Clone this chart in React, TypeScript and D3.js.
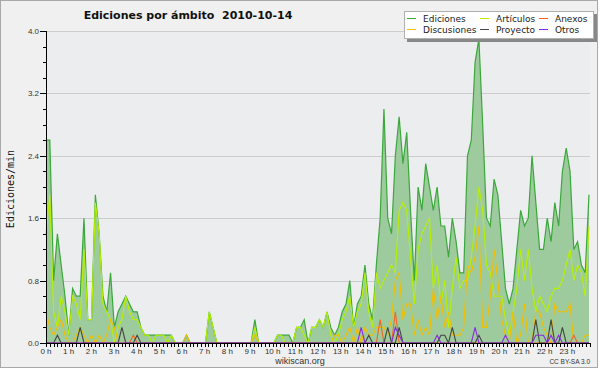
import React from 'react';
import * as d3 from 'd3';

// values are edits per minute, one point every 10 minutes (144 points)
const ediciones = [
  2.6, 2.6, 0.8, 1.4, 1.0, 0.6, 0.1, 0.7, 0.6, 0.6, 1.6, 0.3,
  0.3, 1.9, 1.4, 0.6, 0.4, 0.9, 0.2, 0.4, 0.5, 0.6, 0.5, 0.4,
  0.4, 0.2, 0.1, 0.1, 0.1, 0.1, 0.1, 0.1, 0.1, 0.1, 0, 0,
  0, 0.1, 0, 0, 0, 0, 0, 0.4, 0.2, 0, 0, 0,
  0, 0, 0, 0, 0, 0, 0, 0.3, 0, 0, 0, 0,
  0, 0.1, 0.1, 0.1, 0.1, 0, 0.2, 0.2, 0.3, 0, 0.2, 0.2,
  0.3, 0.2, 0.4, 0.2, 0.1, 0.2, 0.4, 0.5, 0.8, 0.2, 0.5, 0.6,
  1.0, 0.5, 0.3, 1.0, 1.6, 3.0, 1.6, 1.4, 2.4, 2.9, 2.3, 2.7,
  1.7, 0.8, 2.0, 1.7, 2.3, 2.0, 1.7, 2.0, 1.5, 1.5, 1.1, 1.6,
  1.3, 0.9, 0.9, 2.4, 2.6, 3.6, 3.9, 2.8, 1.6, 1.5, 2.1, 1.9,
  1.3, 0.7, 0.5, 0.7, 1.2, 1.7, 1.5, 1.6, 2.4, 1.8, 1.2, 1.2,
  1.6, 1.3, 1.8, 1.5, 2.2, 2.5, 2.2, 1.2, 1.3, 1.0, 0.9, 1.9,
];

const articulos = [
  1.4, 1.9, 0.4, 0.2, 0.6, 0.4, 0.1, 0.6, 0.5, 0.3, 1.2, 0.3,
  0.3, 1.8, 1.4, 0.5, 0.4, 0.3, 0, 0.2, 0.3, 0.6, 0.4, 0.3,
  0.3, 0.2, 0.1, 0.1, 0, 0.1, 0.1, 0.1, 0, 0.1, 0, 0,
  0, 0, 0, 0, 0, 0, 0, 0.4, 0.2, 0, 0, 0,
  0, 0, 0, 0, 0, 0, 0, 0.2, 0, 0, 0, 0,
  0, 0.1, 0.1, 0, 0, 0, 0.2, 0.2, 0.1, 0, 0.2, 0.2,
  0.3, 0.2, 0.4, 0.1, 0, 0.1, 0.3, 0.4, 0.6, 0.2, 0.4, 0.5,
  0.9, 0.4, 0.2, 0.9, 0.7, 0.8, 0.9, 1.0, 0.9, 1.7, 1.8, 1.7,
  1.1, 0.5, 1.2, 1.4, 1.5, 1.6, 0.7, 1.0, 0.5, 0.8, 0.2, 0.7,
  1.1, 0.7, 0.8, 0.8, 1.1, 1.5, 2.0, 1.7, 1.0, 0.9, 0.6, 0.6,
  0.6, 0.3, 0.1, 0.4, 0.7, 1.2, 0.8, 1.2, 0.7, 0.4, 0.6, 0.5,
  0.4, 0.6, 0.7, 0.7, 0.8, 1.0, 1.2, 0.8, 1.0, 0.9, 0.6, 1.5,
];

const discusiones = [
  0.4, 0.2, 0.1, 0.2, 0.3, 0.1, 0, 0, 0.1, 0.2, 0.1, 0,
  0.1, 0, 0.1, 0, 0.1, 0.3, 0.2, 0, 0, 0, 0, 0,
  0, 0, 0, 0, 0, 0, 0, 0, 0, 0, 0, 0,
  0, 0.1, 0, 0, 0, 0, 0, 0, 0, 0, 0, 0,
  0, 0, 0, 0, 0, 0, 0, 0.1, 0, 0, 0, 0,
  0, 0, 0, 0, 0, 0, 0, 0, 0, 0, 0, 0,
  0, 0, 0, 0, 0.1, 0.1, 0, 0.1, 0.2, 0, 0.2, 0,
  0.2, 0.1, 0.1, 0.2, 0.2, 0.2, 0.1, 0.3, 0.8, 0.9, 0.3, 0.5,
  0.5, 0.1, 0.3, 0.1, 0.2, 0.1, 0.7, 0.3, 0.6, 0.2, 0.4, 0.1,
  0.1, 0.1, 0.2, 1.0, 0.9, 1.1, 1.5, 0.2, 0.2, 0.6, 1.2, 0.8,
  0.3, 0.1, 0, 0.4, 0, 0.1, 0.5, 0, 0, 0.4, 0.4, 0.2,
  0.1, 0, 0.5, 0.4, 0.4, 0.4, 0.5, 0, 0, 0, 0.1, 0.1,
];

const anexos = [
  0, 0, 0, 0, 0, 0, 0, 0, 0, 0, 0, 0,
  0, 0, 0, 0, 0, 0, 0, 0, 0, 0, 0, 0.1,
  0, 0, 0, 0, 0, 0, 0, 0, 0, 0, 0, 0,
  0, 0, 0, 0, 0, 0, 0, 0, 0, 0, 0, 0,
  0, 0, 0, 0, 0, 0, 0, 0, 0, 0, 0, 0,
  0, 0, 0, 0, 0, 0, 0, 0, 0, 0, 0, 0,
  0, 0, 0, 0, 0, 0, 0, 0, 0, 0, 0, 0,
  0, 0, 0, 0, 0.3, 0, 0, 0, 0.4, 0, 0, 0,
  0, 0, 0, 0, 0, 0, 0, 0, 0, 0, 0, 0,
  0, 0, 0, 0, 0, 0, 0, 0, 0, 0, 0, 0,
  0, 0, 0, 0, 0, 0, 0, 0, 0, 0, 0, 0,
  0, 0, 0, 0, 0, 0, 0, 0.1, 0, 0, 0, 0,
];

const proyecto = [
  0, 0, 0, 0.1, 0, 0, 0, 0, 0, 0.2, 0, 0,
  0, 0, 0, 0, 0, 0, 0, 0, 0.2, 0, 0, 0,
  0.1, 0, 0, 0, 0, 0, 0, 0, 0, 0, 0, 0,
  0, 0, 0, 0, 0, 0, 0, 0, 0, 0, 0, 0,
  0, 0, 0, 0, 0, 0, 0, 0, 0, 0, 0, 0,
  0, 0, 0, 0, 0, 0, 0, 0, 0, 0, 0, 0,
  0, 0, 0, 0, 0, 0, 0, 0, 0, 0, 0, 0,
  0, 0.1, 0, 0, 0, 0, 0.2, 0, 0, 0.2, 0, 0,
  0, 0, 0, 0, 0, 0, 0, 0, 0.1, 0.1, 0, 0.2,
  0, 0, 0, 0, 0, 0, 0.1, 0, 0, 0, 0, 0,
  0, 0, 0, 0, 0, 0, 0, 0, 0, 0.3, 0, 0,
  0, 0.3, 0, 0, 0.2, 0, 0, 0, 0, 0, 0, 0,
];

const otros = [
  0, 0, 0, 0, 0, 0, 0, 0, 0, 0, 0, 0,
  0, 0, 0, 0, 0, 0, 0, 0, 0, 0, 0, 0,
  0, 0, 0, 0, 0, 0, 0, 0, 0, 0, 0, 0,
  0, 0, 0, 0, 0, 0, 0, 0, 0, 0, 0, 0,
  0, 0, 0, 0, 0, 0, 0, 0, 0, 0, 0, 0,
  0, 0, 0, 0, 0, 0, 0, 0, 0, 0, 0, 0,
  0, 0, 0, 0, 0, 0, 0, 0, 0, 0, 0, 0.2,
  0, 0, 0, 0, 0, 0, 0, 0, 0.2, 0.1, 0, 0,
  0, 0, 0, 0, 0, 0, 0, 0.1, 0, 0, 0, 0,
  0, 0, 0, 0, 0, 0.2, 0, 0, 0, 0, 0, 0,
  0, 0.1, 0, 0, 0, 0, 0, 0, 0, 0.1, 0.1, 0.1,
  0, 0.1, 0, 0.1, 0, 0, 0, 0, 0, 0, 0, 0,
];

const hourLabels = [
  '0 h', '1 h', '2 h', '3 h', '4 h', '5 h', '6 h', '7 h', '8 h', '9 h', '10 h', '11 h',
  '12 h', '13 h', '14 h', '15 h', '16 h', '17 h', '18 h', '19 h', '20 h', '21 h', '22 h', '23 h',
];
const yTicks = [0, 0.8, 1.6, 2.4, 3.2, 4.0];

const COLORS = {
  ediciones: '#3aa83a',
  edicionesFill: '#9dcb9d',
  articulos: '#b8f000',
  discusiones: '#f2be00',
  anexos: '#f26522',
  proyecto: '#444444',
  otros: '#8a2be2',
};

const W = 600;
const H = 370;
const left = 46, right = 590, top = 31, bottom = 343;
const tickFont = "'Liberation Sans', Arial, sans-serif";

const App: React.FC = () => {
  const x = d3.scaleLinear().domain([0, ediciones.length - 1]).range([left, right - 1]);
  const xh = d3.scaleLinear().domain([0, 24]).range([left, right]);
  const y = d3.scaleLinear().domain([0, 4]).range([bottom, top]);

  const line = d3.line<number>().x((d, i) => x(i)).y(d => y(d));
  const area = d3.area<number>().x((d, i) => x(i)).y0(y(0)).y1(d => y(d));

  const minorY = d3.range(0, 4.0001, 0.2);
  const minorX = d3.range(0, 24 * 6 + 1).map(i => i / 6);

  const legend = [
    { name: 'Ediciones', color: COLORS.ediciones, col: 0, row: 0 },
    { name: 'Artículos', color: COLORS.articulos, col: 1, row: 0 },
    { name: 'Anexos', color: COLORS.anexos, col: 2, row: 0 },
    { name: 'Discusiones', color: COLORS.discusiones, col: 0, row: 1 },
    { name: 'Proyecto', color: COLORS.proyecto, col: 1, row: 1 },
    { name: 'Otros', color: COLORS.otros, col: 2, row: 1 },
  ];
  const legendCols = [407, 480, 539];

  return (
    <svg width={W} height={H} style={{ position: 'absolute', left: 0, top: 0 }}
      fontFamily="'DejaVu Sans', sans-serif">
      <rect x={0} y={0} width={W} height={H} fill="#ffffff" />
      <rect x={0.5} y={0.5} width={597} height={367} fill="#f0f0f0" stroke="#a9a9a9" />

      {/* plot background and grid */}
      <rect x={left} y={top} width={right - left} height={bottom - top} fill="#ecedef" />
      {yTicks.slice(1).map(t => (
        <line key={t} x1={left} x2={right} y1={Math.round(y(t)) + 0.5} y2={Math.round(y(t)) + 0.5}
          stroke="#cccccc" strokeWidth={1} />
      ))}

      {/* series */}
      <path d={area(ediciones) ?? ''} fill={COLORS.edicionesFill} />
      <path d={line(ediciones) ?? ''} fill="none" stroke={COLORS.ediciones} strokeWidth={1.2} />
      <path d={line(articulos) ?? ''} fill="none" stroke={COLORS.articulos} strokeWidth={1.1} />
      <path d={line(discusiones) ?? ''} fill="none" stroke={COLORS.discusiones} strokeWidth={1.1} />
      <path d={line(anexos) ?? ''} fill="none" stroke={COLORS.anexos} strokeWidth={1.1} />
      <path d={line(proyecto) ?? ''} fill="none" stroke={COLORS.proyecto} strokeWidth={1.1} />
      <path d={line(otros) ?? ''} fill="none" stroke={COLORS.otros} strokeWidth={1.1} />

      {/* y axis */}
      <line x1={left + 0.5} x2={left + 0.5} y1={top} y2={bottom + 1} stroke="#000" />
      {minorY.map(t => (
        <line key={t} x1={left - 3} x2={left} y1={Math.round(y(t)) + 0.5} y2={Math.round(y(t)) + 0.5}
          stroke="#000" />
      ))}
      {yTicks.map(t => (
        <g key={t}>
          <line x1={left - 6} x2={left} y1={Math.round(y(t)) + 0.5} y2={Math.round(y(t)) + 0.5} stroke="#000" />
          <text x={left - 7} y={y(t) + 3} textAnchor="end" fontFamily={tickFont} fontSize={8} fill="#333">
            {t.toFixed(1)}
          </text>
        </g>
      ))}
      <text transform={`translate(14,189) rotate(-90)`} textAnchor="middle"
        fontFamily="'DejaVu Sans Mono', monospace" fontSize={10} fill="#111">Ediciones/min</text>

      {/* x axis */}
      <line x1={left} x2={right} y1={bottom + 0.5} y2={bottom + 0.5} stroke="#000" />
      {minorX.map((t, i) => (
        <line key={i} x1={Math.round(xh(t)) + 0.5} x2={Math.round(xh(t)) + 0.5} y1={bottom} y2={bottom + 4}
          stroke="#000" />
      ))}
      {hourLabels.map((h, i) => (
        <text key={h} x={xh(i)} y={bottom + 11} textAnchor="middle" fontFamily={tickFont} fontSize={8}
          fill="#333" xmlSpace="preserve">{h}</text>
      ))}

      {/* title */}
      <text x={188} y={19} textAnchor="middle" fontSize={11} fontWeight="bold" fill="#111"
        xmlSpace="preserve" style={{ whiteSpace: 'pre' }}>
        {'Ediciones por ámbito  2010-10-14'}
      </text>

      {/* legend */}
      <rect x={407} y={14} width={190} height={28} fill="#888888" />
      <rect x={404.5} y={11.5} width={189} height={27} fill="#ffffff" stroke="#b0b0b0" />
      {legend.map(l => {
        const lx = legendCols[l.col];
        const ly = 18 + l.row * 11;
        return (
          <g key={l.name}>
            <line x1={lx} x2={lx + 9} y1={ly + 0.5} y2={ly + 0.5} stroke={l.color} strokeWidth={1} />
            <text x={lx + 16} y={ly + 4} fontSize={9} fill="#222">{l.name}</text>
          </g>
        );
      })}

      {/* footer */}
      <text x={300} y={364} textAnchor="middle" fontFamily={tickFont} fontSize={9} fill="#333">wikiscan.org</text>
      <text x={590} y={364} textAnchor="end" fontFamily={tickFont} fontSize={6.5} fill="#333">CC BY-SA 3.0</text>
    </svg>
  );
};

export default App;
